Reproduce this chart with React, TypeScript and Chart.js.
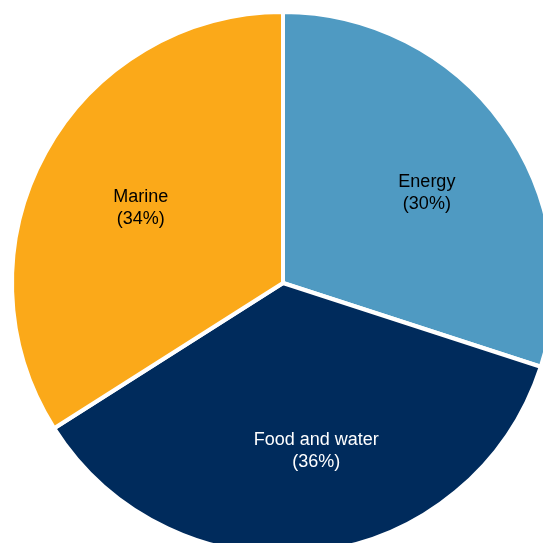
import React, { useEffect, useRef } from "react";
import { Chart, registerables } from "chart.js";

Chart.register(...registerables);

const categories = ["Energy", "Food and water", "Marine"];
const shares = [30, 36, 34];
const sliceColors = ["#4F9AC2", "#002B5C", "#FBA919"];
const labelColors = ["#000000", "#FFFFFF", "#000000"];
// label placement per slice: angle shift from the slice middle (degrees) and radial fraction
const labelAngleShift = [4, -4, -1];
const labelRadius = [0.626, 0.633, 0.593];

const SIZE = 566;

const sliceLabels = {
  id: "sliceLabels",
  afterDatasetsDraw(chart: any) {
    const { ctx } = chart;
    const meta = chart.getDatasetMeta(0);
    ctx.save();
    ctx.font = "18px 'Liberation Sans', Arial, sans-serif";
    ctx.textAlign = "center";
    ctx.textBaseline = "middle";
    meta.data.forEach((arc: any, i: number) => {
      const mid = (arc.startAngle + arc.endAngle) / 2 + (labelAngleShift[i] * Math.PI) / 180;
      const r = arc.outerRadius * labelRadius[i];
      const x = arc.x + Math.cos(mid) * r;
      const y = arc.y + Math.sin(mid) * r;
      ctx.fillStyle = labelColors[i];
      ctx.fillText(categories[i], x, y - 11);
      ctx.fillText(`(${shares[i]}%)`, x, y + 11);
    });
    ctx.restore();
  },
};

export default function App() {
  const canvasRef = useRef<HTMLCanvasElement | null>(null);

  useEffect(() => {
    document.body.style.margin = "0";
    document.body.style.overflow = "hidden";
    const chart = new Chart(canvasRef.current as HTMLCanvasElement, {
      type: "pie",
      data: {
        labels: categories,
        datasets: [
          {
            data: shares,
            backgroundColor: sliceColors,
            borderColor: "#FFFFFF",
            borderWidth: 4,
          },
        ],
      },
      options: {
        responsive: false,
        animation: false,
        layout: { padding: 10 },
        plugins: {
          legend: { display: false },
          tooltip: { enabled: false },
        },
      },
      plugins: [sliceLabels],
    });
    return () => chart.destroy();
  }, []);

  return (
    <div style={{ width: 543, height: 543, overflow: "hidden", background: "#fff" }}>
      <canvas ref={canvasRef} width={SIZE} height={SIZE} style={{ width: SIZE, height: SIZE, display: "block" }} />
    </div>
  );
}
